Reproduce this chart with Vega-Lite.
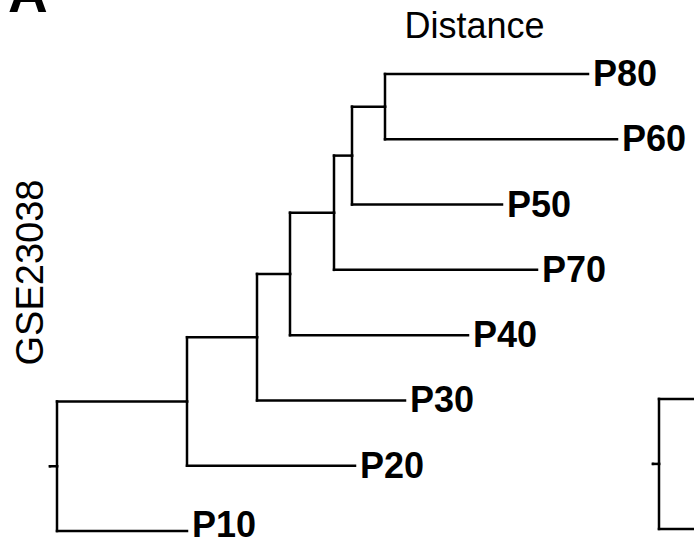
{
  "$schema": "https://vega.github.io/schema/vega-lite/v6.json",
  "width": 694,
  "height": 545,
  "autosize": "none",
  "padding": {"left": 0, "top": 0, "right": 0, "bottom": 0},
  "background": "white",
  "config": {"view": {"stroke": null}, "font": "Liberation Sans"},
  "data": {
    "values": [
      {"panel": "A", "node": "P80", "leaf": true, "dist": 53.1, "pos": 1, "pdist": 32.8, "ppos": 1.5},
      {"panel": "A", "node": "P60", "leaf": true, "dist": 56.0, "pos": 2, "pdist": 32.8, "ppos": 1.5},
      {"panel": "A", "node": "n1", "leaf": false, "dist": 32.8, "pos": 1.5, "pdist": 29.5, "ppos": 2.25},
      {"panel": "A", "node": "P50", "leaf": true, "dist": 44.5, "pos": 3, "pdist": 29.5, "ppos": 2.25},
      {"panel": "A", "node": "n2", "leaf": false, "dist": 29.5, "pos": 2.25, "pdist": 27.7, "ppos": 3.125},
      {"panel": "A", "node": "P70", "leaf": true, "dist": 48.0, "pos": 4, "pdist": 27.7, "ppos": 3.125},
      {"panel": "A", "node": "n3", "leaf": false, "dist": 27.7, "pos": 3.125, "pdist": 23.3, "ppos": 4.0625},
      {"panel": "A", "node": "P40", "leaf": true, "dist": 41.1, "pos": 5, "pdist": 23.3, "ppos": 4.0625},
      {"panel": "A", "node": "n4", "leaf": false, "dist": 23.3, "pos": 4.0625, "pdist": 20.0, "ppos": 5.03125},
      {"panel": "A", "node": "P30", "leaf": true, "dist": 34.8, "pos": 6, "pdist": 20.0, "ppos": 5.03125},
      {"panel": "A", "node": "n5", "leaf": false, "dist": 20.0, "pos": 5.03125, "pdist": 13.0, "ppos": 6.015625},
      {"panel": "A", "node": "P20", "leaf": true, "dist": 29.8, "pos": 7, "pdist": 13.0, "ppos": 6.015625},
      {"panel": "A", "node": "n6", "leaf": false, "dist": 13.0, "pos": 6.015625, "pdist": 0, "ppos": 7.0078},
      {"panel": "A", "node": "P10", "leaf": true, "dist": 13.0, "pos": 8, "pdist": 0, "ppos": 7.0078},
      {"panel": "A", "node": "root", "leaf": false, "dist": 0, "pos": 7.0078, "pdist": -0.7, "ppos": 7.0078},
      {"panel": "B", "node": "b1", "leaf": false, "dist": 70, "pos": 5.977, "pdist": 60.2, "ppos": 6.972},
      {"panel": "B", "node": "b2", "leaf": false, "dist": 70, "pos": 7.968, "pdist": 60.2, "ppos": 6.972},
      {"panel": "B", "node": "broot", "leaf": false, "dist": 60.2, "pos": 6.972, "pdist": 59.6, "ppos": 6.972}
    ]
  },
  "encoding": {
    "x": {
      "field": "pdist", "type": "quantitative",
      "scale": {"domain": [-5.7, 63.7], "nice": false, "zero": false},
      "axis": {
        "orient": "top", "domain": false, "ticks": false, "labels": false, "grid": false,
        "title": "Distance", "titleFont": "Liberation Sans", "titleFontSize": 36, "titleFontWeight": "normal",
        "titleColor": "black", "titleX": 474, "titleY": 37, "titleAlign": "center", "titleBaseline": "alphabetic"
      }
    },
    "y": {
      "field": "pos", "type": "quantitative",
      "scale": {"domain": [-0.1334, 8.214], "nice": false, "zero": false, "reverse": true},
      "axis": {
        "orient": "left", "domain": false, "ticks": false, "labels": false, "grid": false,
        "title": "GSE23038", "titleFont": "Liberation Sans", "titleFontSize": 38, "titleFontWeight": "normal",
        "titleColor": "black", "titleAngle": 270, "titleX": 42, "titleY": 272, "titleAlign": "center", "titleBaseline": "alphabetic"
      }
    }
  },
  "layer": [
    {
      "mark": {"type": "rule", "color": "black", "strokeWidth": 2.5, "strokeCap": "square", "clip": true},
      "encoding": {
        "x2": {"field": "dist"}
      }
    },
    {
      "mark": {"type": "rule", "color": "black", "strokeWidth": 2.5, "strokeCap": "square", "clip": true},
      "encoding": {
        "y": {"field": "ppos", "type": "quantitative"},
        "y2": {"field": "pos"}
      }
    },
    {
      "transform": [{"filter": "datum.leaf && datum.pos < 8"}],
      "mark": {"type": "text", "align": "left", "baseline": "alphabetic", "dx": 5, "dy": 12, "font": "Liberation Sans", "fontSize": 36, "fontWeight": "bold", "color": "black"},
      "encoding": {
        "x": {"field": "dist", "type": "quantitative"},
        "text": {"field": "node"}
      }
    },
    {
      "transform": [{"filter": "datum.leaf && datum.pos >= 8"}],
      "mark": {"type": "text", "align": "left", "baseline": "alphabetic", "dx": 5, "dy": 6, "font": "Liberation Sans", "fontSize": 36, "fontWeight": "bold", "color": "black"},
      "encoding": {
        "x": {"field": "dist", "type": "quantitative"},
        "text": {"field": "node"}
      }
    },
    {
      "transform": [{"filter": "datum.node == 'root'"}],
      "mark": {"type": "text", "align": "left", "baseline": "alphabetic", "font": "Liberation Sans", "fontSize": 55, "fontWeight": "bold", "color": "black"},
      "encoding": {
        "x": {"datum": -4.9},
        "y": {"datum": 0.05},
        "text": {"field": "panel"}
      }
    }
  ]
}
